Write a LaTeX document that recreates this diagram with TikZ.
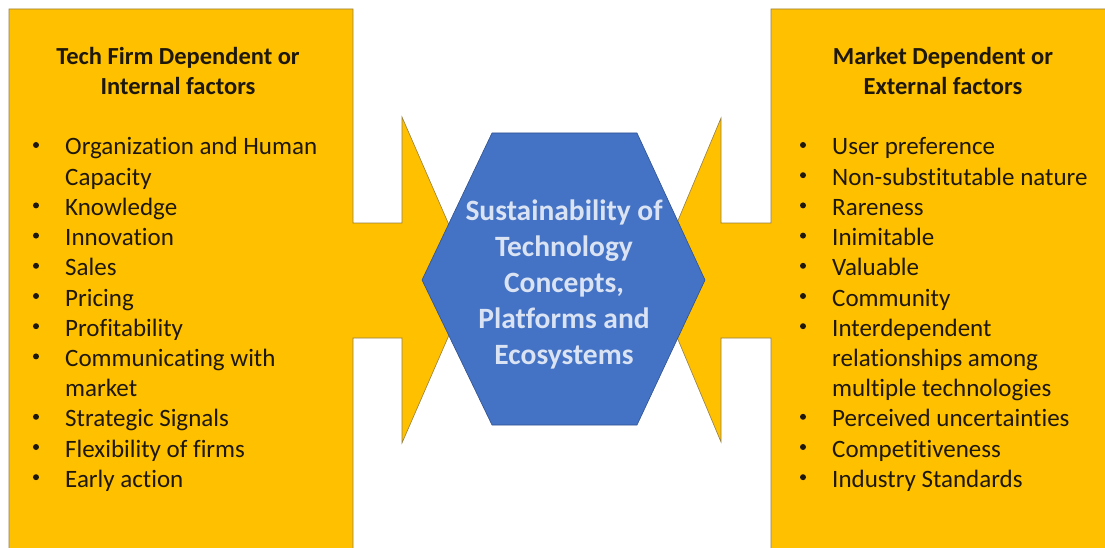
\documentclass[tikz,border=0pt]{standalone}
\usepackage{fontspec}
\setmainfont{Carlito}[Ligatures=NoCommon]
\usepackage{xcolor}
\usetikzlibrary{calc}

\definecolor{factorgold}{RGB}{255,192,0}
\definecolor{factoredge}{RGB}{150,128,70}
\definecolor{factortext}{RGB}{30,24,10}
\definecolor{hexblue}{RGB}{68,114,196}
\definecolor{hexedge}{RGB}{47,82,143}
\definecolor{hextext}{RGB}{218,227,243}

\tikzset{
  factor/.style={fill=factorgold, draw=factoredge, line width=0.6pt},
  heading/.style={align=center, inner sep=0pt, text=factortext, font=\fontsize{24.5}{30}\selectfont\bfseries},
  itemtext/.style={anchor=base west, inner sep=0pt, text=factortext, font=\fontsize{25}{30}\selectfont},
  bulletmark/.style={circle, fill=factortext, inner sep=0pt, minimum size=6pt},
  hextitle/.style={align=center, inner sep=0pt, text=hextext, font=\fontsize{29.5}{36}\selectfont\bfseries}
}

\begin{document}
\begin{tikzpicture}[x=1pt, y=-1pt]

    % Границы рисунка
    \useasboundingbox (0,0) rectangle (1105,548);
    \clip (0,0) rectangle (1105,548);

    % Левый блок со стрелкой вправо
    \draw[factor] (9,9) -- (353,9) -- (353,223) -- (402,223) -- (402,117) -- (473,280)
        -- (402,443) -- (402,338) -- (353,338) -- (353,560) -- (9,560) -- cycle;

    % Правый блок со стрелкой влево
    \draw[factor] (1115,9) -- (771,9) -- (771,223) -- (721,223) -- (721,118) -- (653,280)
        -- (721,442) -- (721,338) -- (771,338) -- (771,560) -- (1115,560) -- cycle;

    % Вершины шестиугольника
    \coordinate (W) at (422,280);
    \coordinate (NW) at (492,133);
    \coordinate (NE) at (637,133);
    \coordinate (E) at (705,280);
    \coordinate (SE) at (637,425);
    \coordinate (SW) at (492,425);
    \draw[fill=hexblue, draw=hexedge, line width=0.6pt] (W) -- (NW) -- (NE) -- (E) -- (SE) -- (SW) -- cycle;
    \node[hextitle] (core) at (564,284) {Sustainability of\\Technology\\Concepts,\\Platforms and\\Ecosystems};

    % Заголовки блоков
    \node[heading] (intTitle) at (178,71) {Tech Firm Dependent or\\Internal factors};
    \node[heading] (extTitle) at (943,71) {Market Dependent or\\External factors};

    % Внутренние факторы (1 - строка с маркером)
    \foreach \bul/\txt [count=\i] in {1/Organization and Human, 0/Capacity, 1/Knowledge,
        1/Innovation, 1/Sales, 1/Pricing, 1/Profitability, 1/Communicating with, 0/market,
        1/Strategic Signals, 1/Flexibility of firms, 1/Early action} {
        \node[itemtext] (int\i) at (65,{155+30.2*(\i-1)}) {\txt};
        \ifnum\bul=1 \node[bulletmark] (intDot\i) at (36,{145+30.2*(\i-1)}) {}; \fi
    }

    % Внешние факторы
    \foreach \bul/\txt [count=\i] in {1/User preference, 1/Non-substitutable nature, 1/Rareness,
        1/Inimitable, 1/Valuable, 1/Community, 1/Interdependent, 0/relationships among,
        0/multiple technologies, 1/Perceived uncertainties, 1/Competitiveness, 1/Industry Standards} {
        \node[itemtext] (ext\i) at (832,{155+30.2*(\i-1)}) {\txt};
        \ifnum\bul=1 \node[bulletmark] (extDot\i) at (803,{145+30.2*(\i-1)}) {}; \fi
    }

\end{tikzpicture}
\end{document}
